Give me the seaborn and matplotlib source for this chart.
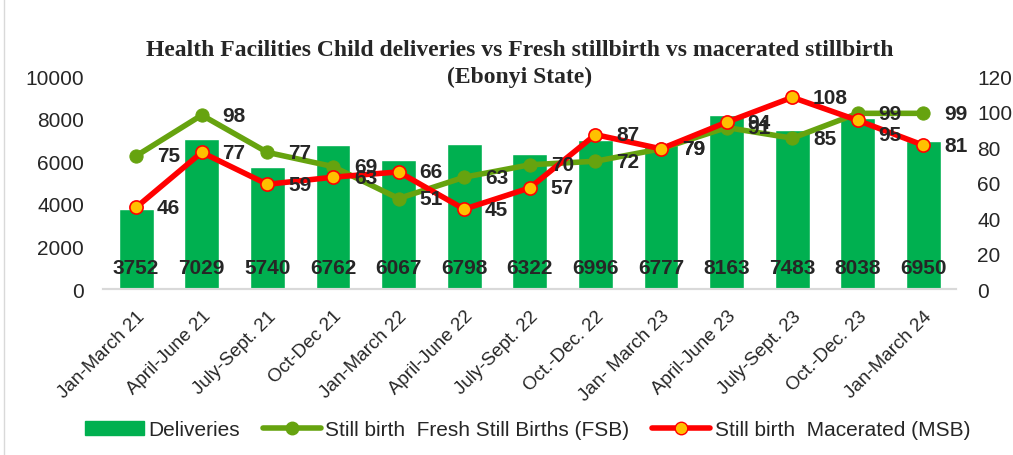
import matplotlib
matplotlib.use('Agg')
import matplotlib.pyplot as plt
from matplotlib.lines import Line2D
from matplotlib.patches import Patch
import seaborn as sns
import numpy as np
import pandas as pd

periods = ['Jan-March 21', 'April-June 21', 'July-Sept. 21', 'Oct-Dec 21', 'Jan-March 22',
           'April-June 22', 'July-Sept. 22', 'Oct.-Dec. 22', 'Jan- March 23', 'April-June 23',
           'July-Sept. 23', 'Oct.-Dec. 23', 'Jan-March 24']
deliveries = [3752, 7029, 5740, 6762, 6067, 6798, 6322, 6996, 6777, 8163, 7483, 8038, 6950]
fsb = [75, 98, 77, 69, 51, 63, 70, 72, 79, 91, 85, 99, 99]
msb = [46, 77, 59, 63, 66, 45, 57, 87, 79, 94, 108, 95, 81]

df = pd.DataFrame({'periodo': periods, 'deliveries': deliveries, 'fsb': fsb, 'msb': msb})
df['pos'] = np.arange(len(df))

sns.set_style('white')
plt.rcParams['font.family'] = ['Liberation Sans', 'DejaVu Sans']

verde_barra = '#00B050'
verde_linha = '#66A30F'
vermelho = '#FF0000'
laranja = '#FFC000'

fig = plt.figure(figsize=(10.13, 4.56), dpi=100)
ax = fig.add_axes([0.102, 0.364, 0.842, 0.467])

# barras - partos
sns.barplot(x='periodo', y='deliveries', data=df, color=verde_barra, width=0.53,
            saturation=1, ax=ax)
ax.set_ylim(0, 10000)
ax.set_yticks(range(0, 10001, 2000))
ax.set_xlim(-0.5, len(df) - 0.5)
ax.set_xlabel('')
ax.set_ylabel('')
for i, v in enumerate(deliveries):
    ax.annotate(str(v), (i, 0), xytext=(0, 15.5), textcoords='offset points',
                ha='center', va='center', fontsize=15, fontweight='bold')

# linhas - natimortos
ax2 = ax.twinx()
sns.lineplot(x='pos', y='fsb', data=df, color=verde_linha, linewidth=4, marker='o',
             markersize=9.5, markerfacecolor=verde_linha, markeredgecolor=verde_linha, ax=ax2)
sns.lineplot(x='pos', y='msb', data=df, color=vermelho, linewidth=4, marker='o',
             markersize=9.5, markerfacecolor=laranja, markeredgecolor=vermelho,
             markeredgewidth=1.2, ax=ax2)
ax2.set_ylim(0, 120)
ax2.set_yticks(range(0, 121, 20))
ax2.set_xlim(-0.5, len(df) - 0.5)
ax2.set_ylabel('')
ax2.set_xlabel('')

for i, v in enumerate(fsb):
    ax2.annotate(str(v), (i, v), xytext=(15, 0), textcoords='offset points',
                 ha='left', va='center', fontsize=15, fontweight='bold')
for i, v in enumerate(msb):
    dy = -10 if i == 11 else 0
    ax2.annotate(str(v), (i, v), xytext=(15, dy), textcoords='offset points',
                 ha='left', va='center', fontsize=15, fontweight='bold')

# eixos
for a in (ax, ax2):
    for s in ['top', 'left', 'right']:
        a.spines[s].set_visible(False)
    a.spines['bottom'].set_color('#D9D9D9')
    a.spines['bottom'].set_linewidth(1.5)
    a.tick_params(length=0, labelsize=15)
ax.tick_params(axis='y', pad=14)
ax2.tick_params(axis='y', pad=15)
ax.set_xticks(df['pos'])
ax.set_xticklabels(periods, rotation=45, ha='right', rotation_mode='anchor', fontsize=13.5)
ax.tick_params(axis='x', pad=13)

fig.text(0.513, 0.86, 'Health Facilities Child deliveries vs Fresh stillbirth vs macerated stillbirth\n(Ebonyi State)',
         ha='center', va='center', fontsize=17, fontweight='bold',
         family='Liberation Serif', linespacing=1.4)

# legenda
handles = [Patch(facecolor=verde_barra, edgecolor=verde_barra),
           Line2D([0], [0], color=verde_linha, lw=4, marker='o', markersize=9,
                  markerfacecolor=verde_linha, markeredgecolor=verde_linha),
           Line2D([0], [0], color=vermelho, lw=4, marker='o', markersize=9,
                  markerfacecolor=laranja, markeredgecolor=vermelho)]
labels = ['Deliveries', 'Still birth  Fresh Still Births (FSB)', 'Still birth  Macerated (MSB)']
fig.legend(handles, labels, loc='center', bbox_to_anchor=(0.521, 0.055), ncol=3,
           frameon=False, fontsize=15, handlelength=2.8, columnspacing=1.1, handletextpad=0.2)

fig.add_artist(Line2D([0.004, 0.004], [0, 1], color='#D9D9D9', lw=1))

fig.savefig('out.png', dpi=100)
